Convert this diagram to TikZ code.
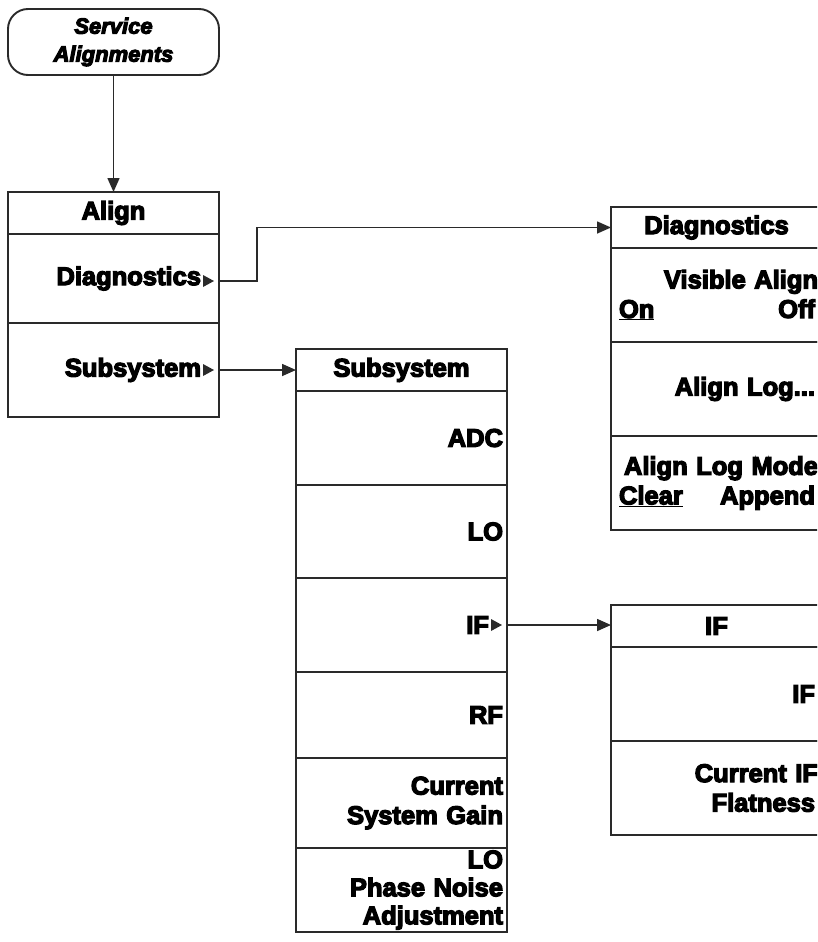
\documentclass[tikz,border=0pt]{standalone}
\usepackage{fontspec}
\usetikzlibrary{arrows.meta}
\newfontfamily\heavy{Liberation Sans Bold}[ItalicFont={Liberation Sans Bold Italic}, FakeBold=5]
\definecolor{lc}{HTML}{2A2A2A}
\begin{document}
\begin{tikzpicture}[x=1pt,y=-1pt,
  hdr/.style={draw=lc, line width=1.9pt, anchor=north west, inner sep=0pt, outer sep=0pt,
    minimum width=211pt, font=\heavy\fontsize{25.5}{29.5}\selectfont, text=black},
  row/.style={hdr, align=right, text width=203pt, inner xsep=4pt},
  arr/.style={draw=lc, line width=1.6pt, -{Triangle[length=14pt,width=12pt]}},
  tri/.style={fill=lc}]
\useasboundingbox (0,0) rectangle (817,942);
\clip (0,0) rectangle (817,942);

% Service Alignments
\node[draw=lc, line width=1.9pt, rounded corners=20pt, minimum width=211pt,
  minimum height=66pt, anchor=north west, inner sep=0pt, outer sep=0pt, align=center,
  font=\heavy\itshape\fontsize{22}{28}\selectfont] (sa) at (8,9) {Service\\Alignments};

% Align menu
\node[hdr, minimum height=42pt] (alignH) at (8,192) {Align};
\node[row, minimum height=89pt] (alignDg) at (alignH.south west) {\raisebox{-2pt}{Diagnostics}\hspace*{14pt}};
\node[row, minimum height=94pt] (alignSs) at (alignDg.south west) {Subsystem\hspace*{14pt}};

% Subsystem menu
\node[hdr, minimum height=42pt] (subH) at (296,349) {Subsystem};
\node[row, minimum height=94pt] (subADC) at (subH.south west) {ADC};
\node[row, minimum height=93pt] (subLO) at (subADC.south west) {LO};
\node[row, minimum height=94pt] (subIF) at (subLO.south west) {IF\hspace*{14pt}};
\node[row, minimum height=86pt] (subRF) at (subIF.south west) {RF};
\node[row, minimum height=90pt] (subCSG) at (subRF.south west) {Current\\System Gain};
\node[row, minimum height=84pt, font=\heavy\fontsize{25.5}{28}\selectfont] (subPN) at (subCSG.south west) {LO\\Phase Noise\\Adjustment};

% Diagnostics menu
\node[hdr, minimum height=41pt] (diagH) at (611,207) {Diagnostics};
\node[row, minimum height=94pt] (diagVA) at (diagH.south west)
  {Visible Align\hspace*{3pt}\\\makebox[203pt][s]{\hspace*{4pt}\underline{On}\hfill Off\hspace*{3pt}}};
\node[row, minimum height=94pt] (diagAL) at (diagVA.south west) {Align Log...\hspace*{3pt}};
\node[row, minimum height=94pt] (diagAM) at (diagAL.south west)
  {Align Log Mode\hspace*{3pt}\\\makebox[203pt][s]{\hspace*{4pt}\underline{Clear}\hfill Append\hspace*{3pt}}};

% IF menu
\node[hdr, minimum height=42pt] (ifH) at (611,605) {IF};
\node[row, minimum height=94pt] (ifIF) at (ifH.south west) {IF\hspace*{3pt}};
\node[row, minimum height=94pt] (ifFl) at (ifIF.south west) {Current IF\hspace*{3pt}\\Flatness\hspace*{3pt}};

% submenu markers
\foreach \n/\dy in {alignDg/-2.5, alignSs/0, subIF/0}{
  \fill[tri] ([xshift=-16pt,yshift=6pt+\dy pt]\n.east) -- ([xshift=-5pt,yshift=\dy pt]\n.east)
    -- ([xshift=-16pt,yshift=-6pt+\dy pt]\n.east) -- cycle;
}

% connectors
\draw[arr] (sa.south) -- (alignH.north);
\draw[arr] ([yshift=-2.5pt]alignDg.east) -- ++(38,0) |- (diagH.west);
\draw[arr] (alignSs.east) -- (alignSs.east -| subH.west);
\draw[arr] (subIF.east) -- (subIF.east -| ifH.west);
\end{tikzpicture}
\end{document}
